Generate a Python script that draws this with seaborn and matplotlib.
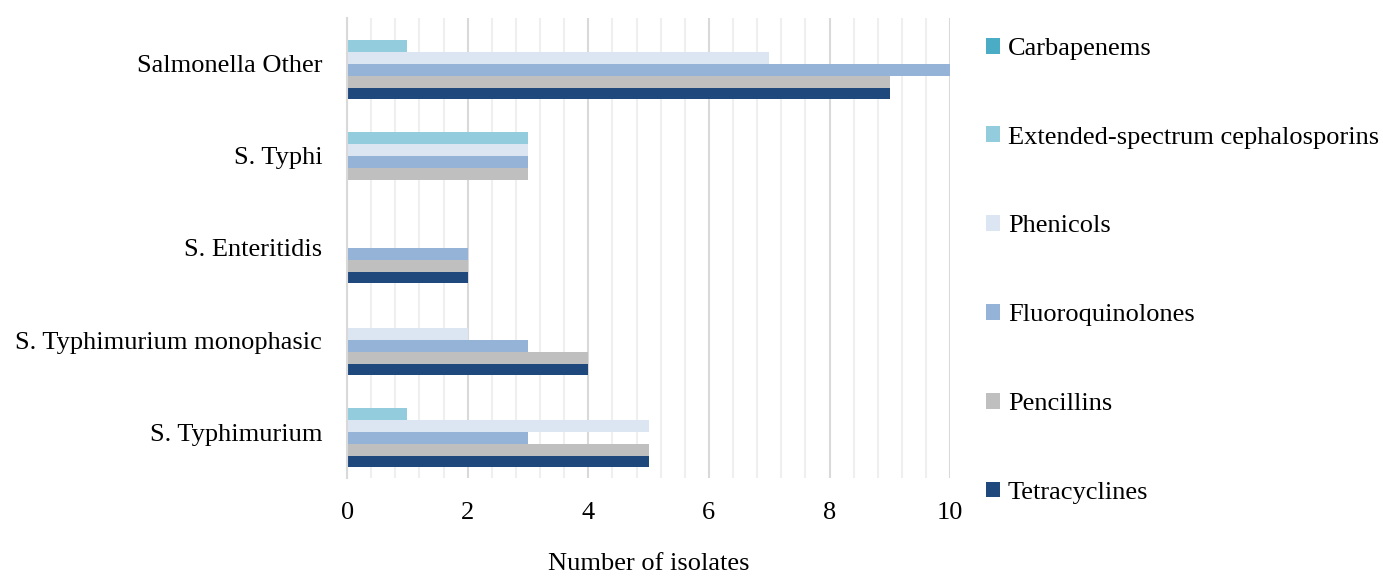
import pandas as pd
import matplotlib.pyplot as plt
import seaborn as sns
from matplotlib.ticker import MultipleLocator
from matplotlib.patches import Patch

serotypes = ["Salmonella Other", "S. Typhi", "S. Enteritidis",
             "S. Typhimurium monophasic", "S. Typhimurium"]
classes = ["Carbapenems", "Extended-spectrum cephalosporins", "Phenicols",
           "Fluoroquinolones", "Pencillins", "Tetracyclines"]

carbapenems = [0, 0, 0, 0, 0]
esc = [1, 3, 0, 0, 1]
phenicols = [7, 3, 0, 2, 5]
fluoroquinolones = [10, 3, 2, 3, 3]
pencillins = [9, 3, 2, 4, 5]
tetracyclines = [9, 0, 2, 4, 5]

colors = ["#4BACC6", "#93CDDD", "#DCE6F2", "#95B3D7", "#BFBFBF", "#1F497D"]

values = [carbapenems, esc, phenicols, fluoroquinolones, pencillins, tetracyclines]
rows = []
for cls, vals in zip(classes, values):
    for sero, v in zip(serotypes, vals):
        rows.append({"serotype": sero, "class": cls, "isolates": v})
df = pd.DataFrame(rows)

sns.set_style("white")
plt.rcParams["font.family"] = ["Liberation Serif", "DejaVu Serif"]
plt.rcParams["text.color"] = "black"
plt.rcParams["xtick.color"] = "black"
plt.rcParams["ytick.color"] = "black"
plt.rcParams["axes.labelcolor"] = "black"

fig = plt.figure(figsize=(13.83, 5.76), dpi=100)
ax = fig.add_axes([0.251, 0.170, 0.436, 0.799])

sns.barplot(data=df, y="serotype", x="isolates", hue="class",
            order=serotypes, hue_order=classes, palette=colors,
            orient="h", width=0.77, ax=ax, legend=False, saturation=1,
            linewidth=0)

ax.set_xlim(0, 10)
ax.xaxis.set_major_locator(MultipleLocator(2))
ax.xaxis.set_minor_locator(MultipleLocator(0.4))
ax.grid(axis="x", which="major", color="#D9D9D9", linewidth=1.5)
ax.grid(axis="x", which="minor", color="#EFEFEF", linewidth=1.5)
ax.set_axisbelow(True)
for s in ["top", "right", "bottom"]:
    ax.spines[s].set_visible(False)
ax.spines["left"].set_color("#D9D9D9")
ax.spines["left"].set_linewidth(1.5)

ax.tick_params(axis="both", which="both", length=0, labelsize=19)
ax.tick_params(axis="x", pad=17)
ax.tick_params(axis="y", pad=18)
ax.set_ylabel("")
ax.set_xlabel("Number of isolates", fontsize=19, labelpad=21)

handles = [Patch(facecolor=c, edgecolor="none") for c in colors]
fig.legend(handles, classes, loc="upper left", bbox_to_anchor=(0.705, 0.953),
           frameon=False, fontsize=19, handlelength=0.55, handleheight=0.55,
           handletextpad=0.3, labelspacing=2.52, borderaxespad=0)

fig.savefig("out.png", dpi=100)
